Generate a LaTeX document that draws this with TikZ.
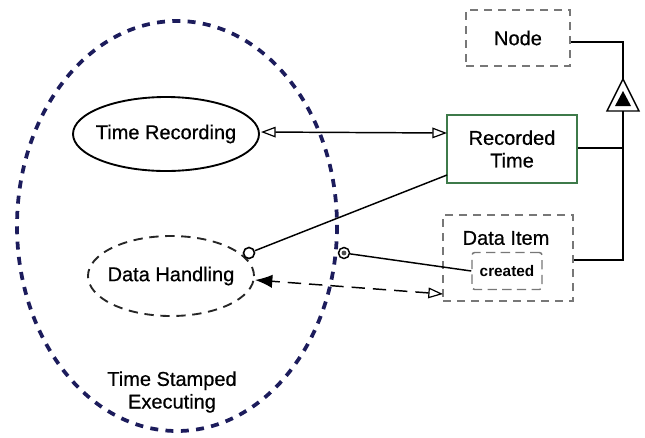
\documentclass[tikz,border=0pt]{standalone}
\usepackage{fontspec}
\setmainfont{Liberation Sans}[BoldFont=Liberation Sans Bold]
\newfontfamily\lblfont{Liberation Sans}[FakeBold=0.6]
\usetikzlibrary{arrows.meta,shapes.geometric}
\definecolor{navy}{HTML}{1C1C5C}
\definecolor{boxgreen}{HTML}{3E7A4A}
\definecolor{dashgray}{HTML}{777777}
\tikzset{
  lbl/.style={font=\lblfont\fontsize{15}{17}\selectfont, align=center},
  usecase/.style={ellipse, draw=black, line width=1.4pt, inner sep=0pt},
  dashbox/.style={draw=dashgray, line width=1.3pt, dash pattern=on 6pt off 4.5pt},
  conn/.style={draw=black, line width=1.1pt},
  openhead/.tip={Triangle[open, length=11pt, width=8pt, line width=0.9pt]},
  solidhead/.tip={Latex[length=13pt, width=10pt]},
}
\begin{document}
\begin{tikzpicture}[x=0.75pt,y=-0.75pt]
\useasboundingbox (0,0) rectangle (645,437);

% enclosing boundary
\draw[navy, line width=2.8pt, dash pattern=on 6pt off 5.5pt]
  (177,226) ellipse [x radius=160, y radius=205];
\node[lbl] (tse) at (172,392) {Time Stamped\\Executing};

% use cases
\node[usecase, minimum width=186*0.75pt, minimum height=74*0.75pt] (tr) at (166,134) {};
\node[lbl] at (tr) {Time Recording};
\node[usecase, dash pattern=on 7pt off 5pt, draw=black!85,
      minimum width=166*0.75pt, minimum height=80*0.75pt] (dh) at (171,276) {};
\node[lbl] at (dh) {Data Handling};

% classes
\node[dashbox, minimum width=104*0.75pt, minimum height=56*0.75pt] (nd) at (518,38) {};
\node[lbl] at (nd) {Node};
\node[draw=boxgreen, line width=1.4pt, minimum width=130*0.75pt, minimum height=68*0.75pt] (rt) at (512,149) {};
\node[lbl] at (rt) {Recorded\\Time};
\node[dashbox, minimum width=130*0.75pt, minimum height=86*0.75pt] (di) at (508,258) {};
\node[lbl] (dit) at (506,238) {Data Item};
\node[draw=dashgray, line width=1.1pt, dash pattern=on 7pt off 4pt, rounded corners=2pt,
      minimum width=70*0.75pt, minimum height=37*0.75pt] (cr) at (507,271) {};
\node[font=\fontsize{11.5}{13}\selectfont\bfseries] at (cr) {created};

% generalization hierarchy on the right
\coordinate (tn) at (623,42);
\coordinate (tt) at (623,79);
\coordinate (tb) at (623,111);
\coordinate (tl) at (607,111);
\coordinate (tr2) at (639,111);
\coordinate (hr) at (623,148);
\coordinate (hd) at (623,260);
\coordinate (rtlow) at (447,175);
\draw[conn] (nd.east |- tn) -- (tn) -- (tt);
\draw[conn, fill=white, line join=miter] (tt) -- (tr2) -- (tl) -- cycle;
\fill[black] (623,91) -- (631,106) -- (615,106) -- cycle;
\draw[conn] (tb) -- (hd) -- (di.east |- hd);
\draw[conn] (rt.east |- hr) -- (hr);

% associations
\coordinate (a1) at (261,132);
\coordinate (a2) at (447,133);
\draw[conn, openhead-openhead] (a1) -- (a2);

\node[circle, draw=black, fill=white, line width=1.2pt, minimum size=11*0.75pt, inner sep=0pt] (c1) at (249,253) {};
\draw[conn] (c1) -- (rtlow);

\node[circle, draw=black, fill=white, line width=1.1pt, minimum size=11*0.75pt, inner sep=0pt] (c2) at (344,253) {};
\fill[black!70] (c2) circle (1.8pt);
\draw[conn] (c2) -- (cr.west);

\coordinate (d1) at (255,280);
\coordinate (d2) at (443,294);
\draw[conn, dash pattern=on 10pt off 6pt, openhead-solidhead] (d2) -- (d1);
\end{tikzpicture}
\end{document}
